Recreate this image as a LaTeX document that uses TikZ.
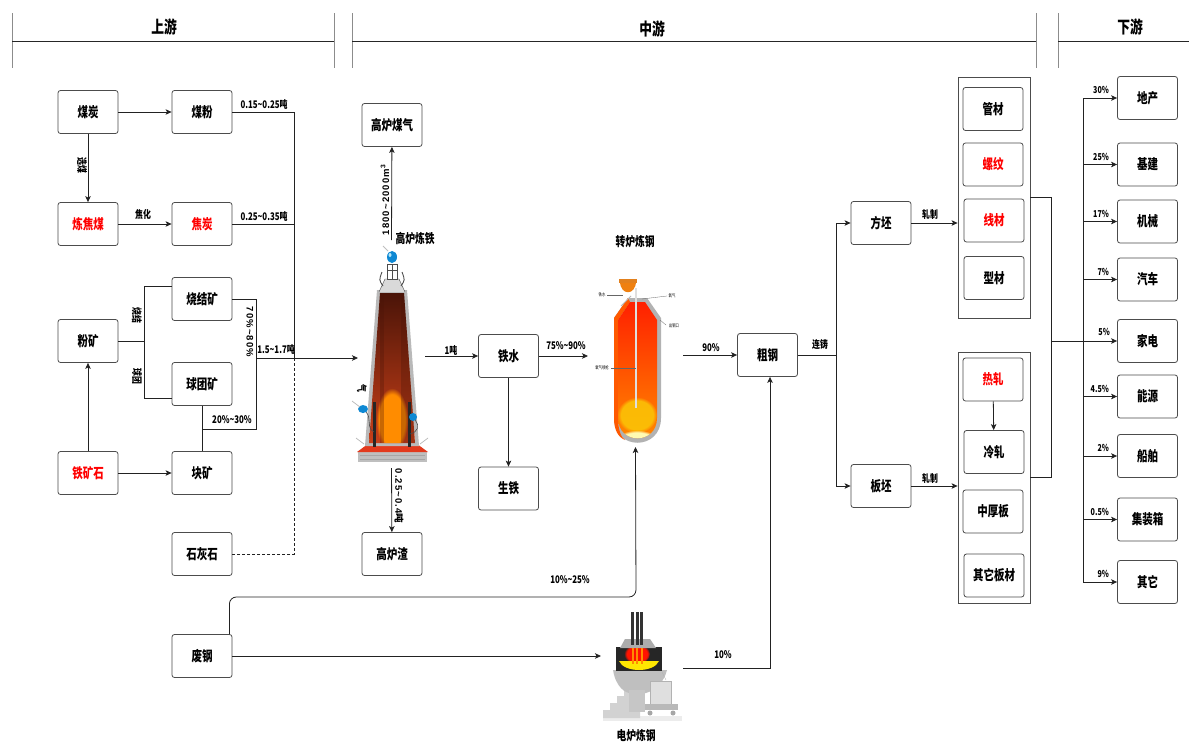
\documentclass[tikz,border=0pt]{standalone}
\usepackage{fontspec}
\setmainfont{Noto Sans CJK SC}[FakeStretch=0.75]
\newfontfamily\widef{Liberation Sans}[LetterSpace=12]
\newfontfamily\cjkn{Noto Sans CJK SC}
\usetikzlibrary{arrows.meta,calc,fadings}
\newcommand{\tld}{\textasciitilde}
\definecolor{bfdark}{HTML}{4A1408}
\definecolor{bfmid}{HTML}{8A2A10}
\definecolor{bfred}{HTML}{C8401A}
\definecolor{lnc}{HTML}{222222}
\tikzset{
  box/.style={draw=black!70, line width=0.8pt, rounded corners=2.5pt, minimum width=60pt, minimum height=43pt, inner sep=0pt, fill=white, font=\fontsize{14}{16}\selectfont\bfseries},
  rbox/.style={box, text=red},
  grp/.style={draw=black!70, line width=0.8pt, minimum width=72pt, inner sep=0pt},
  lab/.style={font=\fontsize{10.5}{12}\selectfont\bfseries, inner sep=1pt},
  imglab/.style={font=\fontsize{13}{14}\selectfont\bfseries, inner sep=1pt},
  sml/.style={font=\fontsize{9.5}{10}\selectfont\bfseries, inner sep=1pt},
  tiny/.style={font=\fontsize{4.5}{5}\selectfont, inner sep=0pt},
  wlab/.style={font=\fontsize{9.5}{10}\selectfont\bfseries\widef, inner sep=1pt},
  ttl/.style={font=\fontsize{17}{18}\selectfont\bfseries, inner sep=0pt},
  arr/.style={-{Stealth[length=6pt,width=5.5pt,inset=1.5pt]}, line width=0.8pt, lnc},
  ln/.style={line width=0.8pt, lnc},
  hdr/.style={line width=0.9pt, black!85},
  hdv/.style={line width=0.9pt, black!45},
  ghost/.style={inner sep=0pt, outer sep=0pt},
  glow/.style={path fading=circle with fuzzy edge 20 percent}
}
\begin{document}
\begin{tikzpicture}[x=1pt,y=-1pt]
\useasboundingbox (0,0) rectangle (1189,744);
\fill[white] (0,0) rectangle (1189,744);

% ---------------- header ----------------
\draw[hdv] (12,13) -- (12,68);
\draw[hdv] (334,13) -- (334,68);
\draw[hdv] (352,13) -- (352,68);
\draw[hdv] (1036,13) -- (1036,68);
\draw[hdv] (1058,13) -- (1058,68);
\draw[hdr] (12,41) -- (334,41);
\draw[hdr] (352,41) -- (1036,41);
\draw[hdr] (1058,41) -- (1189,41);
\node[ttl] (t1) at (164,27) {上游};
\node[ttl] (t2) at (652,29) {中游};
\node[ttl] (t3) at (1130,27) {下游};

% ---------------- upstream nodes ----------------
\node[box] (meitan) at (88,112) {煤炭};
\node[box] (meifen) at (202,112) {煤粉};
\node[rbox] (ljm) at (88,224) {炼焦煤};
\node[rbox] (jt) at (202,224) {焦炭};
\node[box] (sjk) at (202,299) {烧结矿};
\node[box] (fk) at (88,341) {粉矿};
\node[box] (qtk) at (202,384) {球团矿};
\node[rbox] (tks) at (88,473) {铁矿石};
\node[box] (kk) at (202,473) {块矿};
\node[box] (shs) at (202,554) {石灰石};
\node[box] (fg) at (202,656) {废钢};

\coordinate (ja) at (294,112);
\coordinate (jb) at (294,224);
\coordinate (jm) at (294,358);
\coordinate (jl) at (294,554);
\coordinate (fa) at (144,341);
\coordinate (fb) at (144,286);
\coordinate (fc) at (144,398);
\coordinate (sa) at (256,299);
\coordinate (sb) at (256,429);
\coordinate (sc) at (202,429);
\coordinate (sm) at (256,358);

\draw[arr] (meitan) -- (meifen);
\draw[arr] (meitan) -- (ljm);
\node[lab, rotate=-90] (xm) at (82,165) {选煤};
\draw[arr] (ljm) -- (jt);
\node[lab] (jh) at (143,214) {焦化};
\draw[ln] (meifen) -- (ja) -- (jm);
\draw[ln] (jt) -- (jb);
\node[lab] (l015) at (264,104) {0.15\tld0.25吨};
\node[lab] (l025) at (264,216) {0.25\tld0.35吨};
\draw[ln, densely dashed] (jm) -- (jl) -- (shs);
\draw[ln] (fk) -- (fa);
\draw[ln] (fb) -- (fc);
\draw[ln] (fb) -- (sjk.west |- fb);
\draw[ln] (fc) -- (qtk.west |- fc);
\node[lab, rotate=-90] (sj) at (137,315) {烧结};
\node[lab, rotate=-90] (qt) at (137,376) {球团};
\draw[ln] (sjk) -- (sa) -- (sb) -- (sc);
\draw[ln] (qtk) -- (kk);
\node[wlab, rotate=-90] (l70) at (250,332) {70\%\tld80\%};
\node[lab] (l20) at (232,420) {20\%\tld30\%};
\draw[arr] (tks) -- (fk);
\draw[arr] (tks) -- (kk);

% ---------------- blast furnace ----------------
\node[ghost, minimum width=67pt, minimum height=228pt] (bf) at (391.5,354) {};
% base
\fill[gray!50] (358,451) rectangle (427,462);
\draw[gray!70, line width=0.3pt] (360,455) -- (425,455) (360,459) -- (425,459);
\fill[red!55!brown] (357,452) -- (372,441) -- (413,441) -- (428,452) -- cycle;
% shaft
\fill[gray!55] (377,290) -- (407,290) -- (419,446) -- (365,446) -- cycle;
\shade[top color=bfdark, bottom color=bfred, middle color=bfmid] (380,293) -- (404,293) -- (415,443) -- (369,443) -- cycle;
\begin{scope}
\clip (380,293) -- (404,293) -- (415,443) -- (369,443) -- cycle;
\fill[orange!90!yellow, glow] (392,420) ellipse (16pt and 32pt);
\fill[bfdark, opacity=0.3] (380,293) rectangle (384,443);
\fill[bfdark, opacity=0.3] (401,293) rectangle (415,443);
\end{scope}
% top cone and charging equipment
\fill[gray!30] (379,292) -- (385,279) -- (399,279) -- (405,292) -- cycle;
\draw[gray!60!black, line width=0.4pt] (379,292) -- (385,279) -- (399,279) -- (405,292);
\draw[gray!60!black, line width=0.6pt, fill=white] (387,264) rectangle (397,279);
\draw[gray!60!black, line width=0.4pt] (387,270) -- (397,270) (392,264) -- (392,279);
\draw[gray!60!black, line width=0.9pt] (383,286) .. controls (379,280) .. (382,272);
\draw[gray!60!black, line width=0.9pt] (401,286) .. controls (405,280) .. (402,272);
\fill[cyan!70!blue] (392,257) ellipse (5pt and 6pt);
\fill[cyan!30] (390,255) ellipse (1.5pt and 2pt);
\draw[gray!50, line width=0.8pt] (388,251) -- (383,246);
% side stoves, tuyeres
\fill[black!85] (373,402) rectangle (376,447);
\fill[black!85] (408,402) rectangle (411,447);
\fill[cyan!70!blue] (363,409) ellipse (5pt and 4pt);
\fill[cyan!70!blue] (413,417) ellipse (4pt and 4pt);
\draw[gray!60!black, line width=0.6pt] (366,412) .. controls (372,418) and (366,428) .. (374,432);
\draw[gray!60!black, line width=0.6pt] (415,420) .. controls (420,426) and (418,432) .. (410,434);
\draw[gray!55, line width=0.7pt] (352,401) -- (360,407);
\draw[gray!55, line width=0.7pt] (356,438) -- (364,444);
\draw[gray!55, line width=0.7pt] (428,438) -- (420,444);
\node[lab, rotate=-90] (qi) at (362,388) {气};
\node[imglab] (glltl) at (415,239) {高炉炼铁};

\node[box] (glmq) at (392,125) {高炉煤气};
\node[box] (glz) at (392,554) {高炉渣};
\draw[arr] (bf.north) -- (glmq);
\draw[arr] (bf.south) -- (glz);
\node[wlab, rotate=90] (l1800) at (385,200) {1800\tld2000m\textsuperscript{3}};
\node[wlab, rotate=-90] (l025b) at (399,496) {0.25\tld0.4{\cjkn 吨}};
\draw[arr] (sm) -- (bf.west |- sm);
\node[lab] (l15) at (276,349) {1.5\tld1.7吨};

% ---------------- iron ----------------
\node[box] (ts) at (508.5,356) {铁水};
\node[box] (st) at (508.5,488.5) {生铁};
\draw[arr] (bf.east |- ts) -- (ts);
\node[lab] (l1t) at (451,350) {1吨};
\draw[arr] (ts) -- (st);

% ---------------- converter ----------------
\node[ghost, minimum width=95pt, minimum height=172pt] (cv) at (635.5,361) {};
\fill[gray!60] (614,318) -- (628,298) -- (647,298) -- (661,318) -- (661,418) .. controls (661,451) and (614,451) .. (614,418) -- cycle;
\fill[orange!70!red] (614,318) -- (628,298) -- (630,302) -- (618,320) -- (618,418) .. controls (618,430) and (621,437) .. (625,440) .. controls (618,437) and (614,430) .. (614,418) -- cycle;
\shade[top color=red!75!orange, bottom color=orange!90!yellow] (618,320) -- (630,302) -- (645,302) -- (657,320) -- (657,418) .. controls (657,445) and (618,445) .. (618,418) -- cycle;
\begin{scope}
\clip (618,320) -- (630,302) -- (645,302) -- (657,320) -- (657,418) .. controls (657,445) and (618,445) .. (618,418) -- cycle;
\fill[yellow!60!orange, glow, opacity=0.85] (637,415) ellipse (20pt and 18pt);
\fill[yellow!30, glow] (637,442) ellipse (22pt and 12pt);
\end{scope}
\draw[gray!25, line width=1.2pt] (636,288) -- (636,408);
\fill[orange!75!brown] (620,281) .. controls (620,296) and (636,296) .. (636,281) -- cycle;
\fill[orange!55!brown] (619,279) rectangle (637,283);
\draw[gray!55, line width=1pt] (621,306) -- (631,296);
\draw[black!60, line width=0.3pt] (607,295) -- (623,295);
\node[tiny] (cvl1) at (602,295) {铁水};
\draw[black!60, line width=0.3pt] (642,299) -- (667,296);
\node[tiny] (cvl2) at (672,296) {氧气};
\draw[black!60, line width=0.3pt] (660,320) -- (666,325);
\node[tiny] (cvl3) at (674,326) {出钢口};
\draw[black!60, line width=0.3pt] (611,368) -- (636,368);
\node[tiny] (cvl4) at (602,368) {氧气喷枪};
\node[imglab] (zllg) at (635,242) {转炉炼钢};

\draw[arr] (ts) -- (cv.west |- ts);
\node[lab] (l75) at (566,346) {75\%\tld90\%};

% ---------------- crude steel ----------------
\node[box] (cg) at (767.5,355) {粗钢};
\draw[arr] (cv.east |- cg) -- (cg);
\node[lab] (l90) at (711,348) {90\%};

% ---------------- EAF ----------------
\node[ghost, minimum width=82pt, minimum height=112pt] (ef) at (642,666) {};
\fill[gray!15] (603,716) rectangle (682,721);
\fill[gray!35] (603,718) -- (603,710) -- (610,710) -- (610,703) -- (617,703) -- (617,696) -- (624,696) -- (624,690) -- (640,690) -- (640,718) -- cycle;
\fill[gray!50] (613,670) .. controls (616,688) and (626,693) .. (630,693) -- (646,693) .. controls (656,690) and (664,682) .. (667,670) -- cycle;
\fill[gray!45] (629,690) rectangle (645,712);
\fill[black!85] (616,647) rectangle (662,671);
\fill[red!85!orange, glow] (637,654) ellipse (13pt and 10pt);
\fill[yellow!90!orange] (619,661) .. controls (624,673) and (654,673) .. (659,661) -- cycle;
\fill[gray!65] (620,648) -- (625,639) -- (650,639) -- (656,648) -- cycle;
\fill[gray!40!black] (631,612) rectangle (634,645);
\fill[gray!40!black] (635.5,612) rectangle (638.5,645);
\fill[gray!40!black] (640,612) rectangle (643,645);
\fill[orange!90!yellow] (631.5,648) rectangle (633.5,664);
\fill[orange!90!yellow] (636,648) rectangle (638,664);
\fill[orange!90!yellow] (640.5,648) rectangle (642.5,664);
\fill[gray!25] (650,681) rectangle (671,704);
\draw[gray!60, line width=0.4pt] (650,681) rectangle (671,704);
\fill[gray!55] (645,704) rectangle (678,710);
\fill[gray!70] (650,713) circle (2.5pt);
\fill[gray!70] (673,713) circle (2.5pt);
\draw[gray!60, line width=0.4pt] (662,672) -- (666,680);
\node[imglab] (dllg) at (636,736) {电炉炼钢};

% scrap connections
\coordinate (k1) at (636,597);
\draw[arr, rounded corners=7pt] ([xshift=-3pt]fg.north east) |- (k1) -- (cv.south);
\node[lab] (l10a) at (570,580) {10\%\tld25\%};
\draw[arr] (fg) -- (ef.west |- fg);
\coordinate (k2) at (770,668);
\draw[arr] (ef.east |- k2) -- (k2) -- (k2 |- cg.south);
\node[lab] (l10b) at (723,655) {10\%};

% ---------------- casting / rolling ----------------
\node[box] (fp) at (881,223) {方坯};
\node[box] (bp) at (881,486) {板坯};
\coordinate (lz) at (836,355);
\draw[ln] (cg) -- (lz);
\draw[arr] (lz) |- (fp);
\draw[arr] (lz) |- (bp);
\node[lab] (llz) at (820,345) {连铸};

\node[grp, minimum height=241pt] (g1) at (994,197.5) {};
\node[grp, minimum height=251pt] (g2) at (994,477.5) {};
\draw[arr] (fp) -- (g1.west |- fp);
\node[lab] (lzz1) at (930,214) {轧制};
\draw[arr] (bp) -- (g2.west |- bp);
\node[lab] (lzz2) at (930,478) {轧制};

\node[box] (gc) at (993,109) {管材};
\node[rbox] (lw) at (993,164.5) {螺纹};
\node[rbox] (xc) at (994,220.5) {线材};
\node[box] (xcai) at (994,278) {型材};
\node[rbox] (rz) at (993,379.5) {热轧};
\node[box] (lzh) at (994,452) {冷轧};
\node[box] (zhb) at (993,511.5) {中厚板};
\node[box] (qtbc) at (994,575.5) {其它板材};
\draw[arr] (rz) -- (lzh);

% ---------------- downstream ----------------
\node[box] (dc) at (1147.5,98) {地产};
\node[box] (jj) at (1147.5,164.5) {基建};
\node[box] (jx) at (1147.5,221.5) {机械};
\node[box] (qc) at (1147.5,279.5) {汽车};
\node[box] (jd) at (1147.5,341) {家电};
\node[box] (ny) at (1147.5,396.5) {能源};
\node[box] (cb) at (1147.5,456) {船舶};
\node[box] (jzx) at (1147.5,519.5) {集装箱};
\node[box] (qta) at (1147.5,582) {其它};

\coordinate (gr) at (1051,341);
\draw[ln] (g1.east) -| (gr);
\draw[ln] (g2.east) -| (gr);
\draw[arr] (gr) -- (jd);
\node[sml, anchor=south east] (p5) at (1111,337) {5\%};

\coordinate (ta) at (1083,98);
\coordinate (tb) at (1083,582);
\draw[ln] (ta) -- (tb);
\foreach \n/\l in {dc/30\%, jj/25\%, jx/17\%, qc/7\%, ny/4.5\%, cb/2\%, jzx/0.5\%, qta/9\%}{
  \draw[arr] (ta |- \n) -- (\n);
  \node[sml, anchor=south east] at ([xshift=-7pt,yshift=3pt]\n.west) {\l};
}
\end{tikzpicture}
\end{document}
